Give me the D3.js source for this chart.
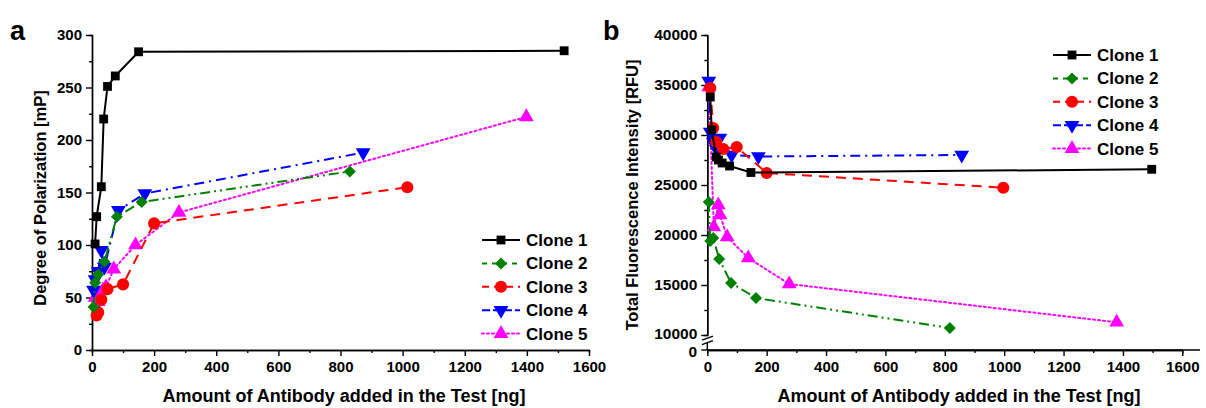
<!DOCTYPE html>
<html>
<head>
<meta charset="utf-8">
<script src="https://cdn.jsdelivr.net/npm/d3@7"></script>
<style>
  body { margin: 0; background: #fff; }
  svg { font-family: "Liberation Sans", Arial, sans-serif; font-weight: bold; }
  .axis path, .axis line { stroke: #000; stroke-width: 1.4; }
  .axis text { font-size: 15px; font-weight: bold; fill: #000; font-family: "Liberation Sans", Arial, sans-serif; }
  .y-axis-b text { font-size: 15.5px; }
  .title { font-size: 16.5px; font-weight: bold; }
  .x-title { font-size: 18px; font-weight: bold; }
  .legend-label { font-size: 17px; font-weight: bold; }
</style>
</head>
<body>
<svg id="chart" width="1206" height="408"></svg>
<script>
const CLONES = ["Clone 1", "Clone 2", "Clone 3", "Clone 4", "Clone 5"];

// panel a: degree of polarization [mP]
const doseA1 = [10, 15, 30, 37.5, 50, 75, 150, 1520];
const polA1 = [101, 127, 155.5, 220, 251, 261, 284, 285];
const doseA2 = [5, 10, 20, 40, 80, 160, 830];
const polA2 = [41, 64, 72, 84, 127, 141, 170];
const doseA3 = [15, 20, 30, 50, 100, 200, 1015];
const polA3 = [33, 36, 48, 58, 62.5, 120.6, 155];
const doseA4 = [5, 10, 20, 30, 40, 85, 170, 873];
const polA4 = [57, 67, 75, 95, 79, 133, 149, 188];
const doseA5 = [10, 20, 35, 45, 70, 140, 280, 1398];
const polA5 = [50, 46, 57, 60, 77, 100, 131, 222];

// panel b: total fluorescence intensity [RFU]
const doseB1 = [10, 15, 30, 37.5, 50, 75, 147, 1497];
const rfuB1 = [33800, 30500, 27800, 27500, 27200, 26900, 26250, 26570];
const doseB2 = [5, 10, 20, 40, 80, 164, 817];
const rfuB2 = [23300, 19400, 19700, 17600, 15200, 13700, 10700];
const doseB3 = [10, 20, 30, 54, 99, 200, 997];
const rfuB3 = [34700, 30700, 29300, 28600, 28800, 26200, 24730];
const doseB4 = [5, 10, 20, 30, 42, 82, 172, 857];
const rfuB4 = [35400, 30300, 29300, 28600, 29700, 28000, 27850, 28000];
const doseB5 = [5, 22, 37, 43, 67, 138, 276, 1379];
const rfuB5 = [34800, 20800, 23000, 22000, 19800, 17700, 15100, 11270];

const xTicks = [0, 200, 400, 600, 800, 1000, 1200, 1400, 1600];
const yTicksA = [0, 50, 100, 150, 200, 250, 300];
const yTicksB = [10000, 15000, 20000, 25000, 30000, 35000, 40000];

const STYLES = [
  { color: "#000000", dash: null, legendDash: null, symbol: d3.symbolSquare, size: 78, rotate: 0 },
  { color: "#008000", dash: "10,4,2,4,2,4", legendDash: "5,5", symbol: d3.symbolSquare, size: 72, rotate: 45 },
  { color: "#ff0000", dash: "10,7", legendDash: "7,5", symbol: d3.symbolCircle, size: 115, rotate: 0 },
  { color: "#0000ff", dash: "10,5,2,5", legendDash: "8,3", symbol: d3.symbolTriangle, size: 95, rotate: 180 },
  { color: "#ff00ff", dash: "2,3", legendDash: "2,3", symbol: d3.symbolTriangle, size: 95, rotate: 0 },
];

const svg = d3.select("#chart");
const fmt = d3.format("d");

function zipSeries(xs, ys) {
  return xs.map((x, i) => ({ x, y: ys[i] }));
}

function drawSeries(g, x, y, series) {
  [4, 3, 2, 1, 0].forEach((i) => {
    const st = STYLES[i];
    const line = d3.line().x((d) => x(d.x)).y((d) => y(d.y));
    g.append("path")
      .datum(series[i])
      .attr("d", line)
      .attr("fill", "none")
      .attr("stroke", st.color)
      .attr("stroke-width", 2)
      .attr("stroke-linecap", i === 4 ? "round" : "butt")
      .attr("stroke-dasharray", st.dash);
    g.selectAll(null)
      .data(series[i])
      .join("path")
      .attr("d", d3.symbol().type(st.symbol).size(st.size))
      .attr("transform", (d) => `translate(${x(d.x)},${y(d.y)}) rotate(${st.rotate})`)
      .attr("fill", st.color);
  });
}

function drawLegend(g, lx, ly) {
  CLONES.forEach((name, i) => {
    const st = STYLES[i];
    const cy = ly + i * 23.4;
    g.append("line")
      .attr("x1", lx).attr("x2", lx + 38)
      .attr("y1", cy).attr("y2", cy)
      .attr("stroke", st.color)
      .attr("stroke-width", 2)
      .attr("stroke-linecap", i === 4 ? "round" : "butt")
      .attr("stroke-dasharray", st.legendDash);
    g.append("path")
      .attr("d", d3.symbol().type(st.symbol).size(st.size))
      .attr("transform", `translate(${lx + 19},${cy}) rotate(${st.rotate})`)
      .attr("fill", st.color);
    g.append("text")
      .attr("class", "legend-label")
      .attr("x", lx + 44)
      .attr("y", cy + 6)
      .text(name);
  });
}

function xAxes(g, x, yPos) {
  g.append("g").attr("class", "axis")
    .attr("transform", `translate(0,${yPos})`)
    .call(d3.axisBottom(x).tickValues(d3.range(100, 1700, 200)).tickSize(3).tickFormat(""));
  g.append("g").attr("class", "axis")
    .attr("transform", `translate(0,${yPos})`)
    .call(d3.axisBottom(x).tickValues(xTicks).tickFormat(fmt).tickSize(6).tickPadding(5).tickSizeOuter(0));
}

// ---------- Panel a ----------
const gA = svg.append("g");
const xA = d3.scaleLinear().domain([0, 1600]).range([92, 589]);
const yA = d3.scaleLinear().domain([0, 300]).range([350, 35]);

xAxes(gA, xA, 350);
gA.append("g").attr("class", "axis")
  .attr("transform", "translate(92,0)")
  .call(d3.axisLeft(yA).tickValues(d3.range(25, 300, 50)).tickSize(3).tickFormat(""));
gA.append("g").attr("class", "axis")
  .attr("transform", "translate(92,0)")
  .call(d3.axisLeft(yA).tickValues(yTicksA).tickFormat(fmt).tickSize(6).tickPadding(4).tickSizeOuter(0));

drawSeries(gA, xA, yA, [
  zipSeries(doseA1, polA1),
  zipSeries(doseA2, polA2),
  zipSeries(doseA3, polA3),
  zipSeries(doseA4, polA4),
  zipSeries(doseA5, polA5),
]);
drawLegend(gA, 482, 240);

gA.append("text").attr("class", "x-title").attr("text-anchor", "middle")
  .attr("x", 344).attr("y", 402).text("Amount of Antibody added in the Test [ng]");
gA.append("text").attr("class", "title").attr("text-anchor", "middle")
  .attr("transform", "translate(46,198) rotate(-90)").text("Degree of Polarization [mP]");
svg.append("text").attr("x", 10).attr("y", 40).attr("font-size", 27).attr("font-weight", "bold").text("a");

// ---------- Panel b ----------
const gB = svg.append("g");
const xB = d3.scaleLinear().domain([0, 1600]).range([707.3, 1182.3]);
const yB = d3.scaleLinear().domain([10000, 40000]).range([335, 35]);
const yZero = 350;

gB.append("line").attr("x1", 707.3).attr("x2", 1200).attr("y1", yZero).attr("y2", yZero)
  .attr("stroke", "#000").attr("stroke-width", 1.4);
xAxes(gB, xB, yZero);

gB.append("g").attr("class", "axis")
  .attr("transform", "translate(707.3,0)")
  .call(d3.axisLeft(yB).tickValues(d3.range(12500, 40000, 5000)).tickSize(3).tickFormat(""));
gB.append("g").attr("class", "axis y-axis-b")
  .attr("transform", "translate(707.3,0)")
  .call(d3.axisLeft(yB).tickValues(yTicksB).tickFormat(fmt).tickSize(6).tickPadding(4).tickSizeOuter(0));
gB.select(".y-axis-b").selectAll(".tick text").filter((d) => d === 10000).attr("dy", "0.2em");

// lower stub of the broken y axis, with its zero tick
gB.append("line").attr("x1", 701.3).attr("x2", 707.3).attr("y1", yZero).attr("y2", yZero)
  .attr("stroke", "#000").attr("stroke-width", 1.4);
gB.append("line").attr("x1", 707.3).attr("x2", 707.3).attr("y1", 343).attr("y2", yZero)
  .attr("stroke", "#000").attr("stroke-width", 1.4);
gB.append("text").attr("x", 697).attr("y", yZero + 7).attr("text-anchor", "end")
  .attr("font-size", 15.5).attr("font-weight", "bold").text("0");
gB.append("rect").attr("x", 705).attr("y", 337).attr("width", 5).attr("height", 5.5).attr("fill", "#fff");
gB.selectAll("line.brk").data([338.2, 342.6]).join("line")
  .attr("class", "brk")
  .attr("x1", 702).attr("x2", 713).attr("y1", (d) => d + 2).attr("y2", (d) => d - 2)
  .attr("stroke", "#000").attr("stroke-width", 1.4);

drawSeries(gB, xB, yB, [
  zipSeries(doseB1, rfuB1),
  zipSeries(doseB2, rfuB2),
  zipSeries(doseB3, rfuB3),
  zipSeries(doseB4, rfuB4),
  zipSeries(doseB5, rfuB5),
]);
drawLegend(gB, 1053, 55);

gB.append("text").attr("class", "x-title").attr("text-anchor", "middle")
  .attr("x", 959).attr("y", 402).text("Amount of Antibody added in the Test [ng]");
gB.append("text").attr("class", "title").attr("text-anchor", "middle")
  .attr("transform", "translate(638,195) rotate(-90)").text("Total Fluorescence Intensity [RFU]");
svg.append("text").attr("x", 603).attr("y", 40).attr("font-size", 27).attr("font-weight", "bold").text("b");
</script>
</body>
</html>
